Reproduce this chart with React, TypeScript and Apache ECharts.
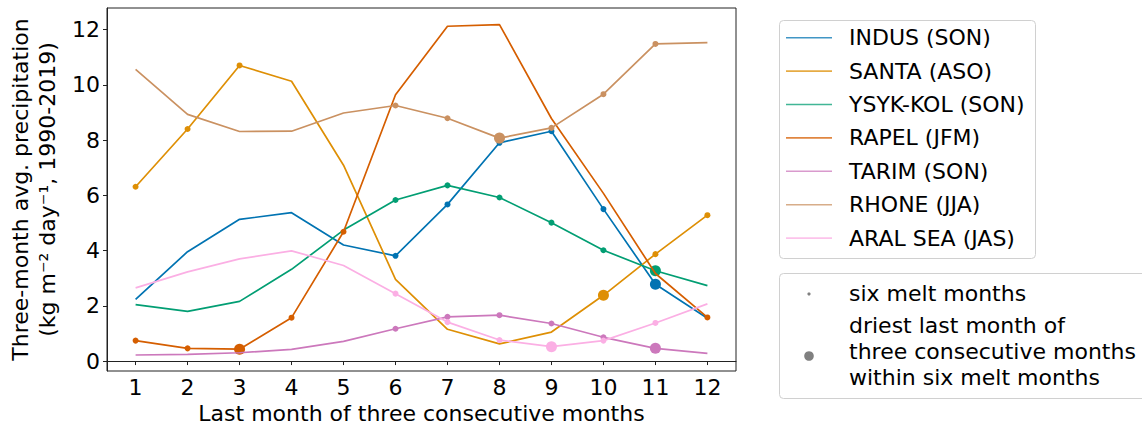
import React, { useEffect, useRef } from "react";
import * as echarts from "echarts";

// Last month of each three-month window (1 = January ... 12 = December)
const months = [1, 2, 3, 4, 5, 6, 7, 8, 9, 10, 11, 12];
const yTicks = [0, 2, 4, 6, 8, 10, 12];

const basinNames = [
  "INDUS (SON)",
  "SANTA (ASO)",
  "YSYK-KOL (SON)",
  "RAPEL (JFM)",
  "TARIM (SON)",
  "RHONE (JJA)",
  "ARAL SEA (JAS)",
];

const basinColors = ["#0173b2", "#de8f05", "#029e73", "#d55e00", "#cc78bc", "#ca9161", "#fbafe4"];

// Three-month average precipitation (kg m-2 day-1, 1990-2019)
const indus = [2.23, 3.96, 5.13, 5.37, 4.2, 3.81, 5.67, 7.9, 8.32, 5.5, 2.78, 1.55];
const santa = [6.31, 8.4, 10.7, 10.13, 7.09, 2.96, 1.15, 0.62, 1.05, 2.38, 3.87, 5.28];
const ysykKol = [2.04, 1.8, 2.16, 3.32, 4.74, 5.83, 6.36, 5.92, 5.01, 4.01, 3.27, 2.73];
const rapel = [0.74, 0.46, 0.43, 1.57, 4.68, 9.64, 12.12, 12.18, 8.78, 6.07, 3.17, 1.58];
const tarim = [0.22, 0.24, 0.3, 0.42, 0.71, 1.17, 1.6, 1.66, 1.36, 0.86, 0.46, 0.28];
const rhone = [10.56, 8.93, 8.31, 8.32, 8.98, 9.25, 8.79, 8.07, 8.44, 9.66, 11.48, 11.53];
const aralSea = [2.65, 3.23, 3.7, 3.99, 3.46, 2.44, 1.41, 0.76, 0.52, 0.74, 1.38, 2.07];

const basinValues = [indus, santa, ysykKol, rapel, tarim, rhone, aralSea];

// Six melt months of each basin and the driest window end within them
const meltMonths = [
  [6, 7, 8, 9, 10, 11],
  [10, 11, 12, 1, 2, 3],
  [6, 7, 8, 9, 10, 11],
  [12, 1, 2, 3, 4, 5],
  [6, 7, 8, 9, 10, 11],
  [6, 7, 8, 9, 10, 11],
  [6, 7, 8, 9, 10, 11],
];
const driestMonth = [11, 10, 11, 3, 11, 8, 9];

const FONT = "DejaVu Sans";

export default function App() {
  const ref = useRef<HTMLDivElement>(null);

  useEffect(() => {
    if (!ref.current) return;
    const chart = echarts.init(ref.current, null, { renderer: "svg" });

    const series = basinNames.map((name, i) => ({
      name,
      type: "line",
      data: months.map((m, j) => [m, basinValues[i][j]]),
      symbol: "circle",
      showSymbol: true,
      symbolSize: (_v: any, p: any) => {
        const m = months[p.dataIndex];
        if (m === driestMonth[i]) return 11;
        if (meltMonths[i].includes(m)) return 6;
        return 0;
      },
      lineStyle: { color: basinColors[i], width: 1.7 },
      itemStyle: { color: basinColors[i] },
      emphasis: { disabled: true },
      z: 2 + i,
    }));

    // Legend boxes
    const legendTop = 20;
    const rowGap = 33.4;
    const legendItems: any[] = [
      {
        type: "rect",
        shape: { x: 779.5, y: legendTop + 0.5, width: 256, height: 238, r: 4 },
        style: { fill: "#fff", stroke: "#d0d0d0", lineWidth: 1 },
      },
    ];
    basinNames.forEach((name, i) => {
      const cy = legendTop + 17.7 + i * rowGap;
      legendItems.push({
        type: "line",
        shape: { x1: 786, y1: cy, x2: 832, y2: cy },
        style: { stroke: basinColors[i], lineWidth: 1.6, opacity: 0.75 },
      });
      legendItems.push({
        type: "text",
        x: 849,
        y: cy,
        style: { text: name, font: `22px ${FONT}`, fill: "#000", textVerticalAlign: "middle" },
      });
    });
    legendItems.push(
      {
        type: "rect",
        shape: { x: 779.5, y: 273.5, width: 400, height: 125, r: 4 },
        style: { fill: "#fff", stroke: "#d0d0d0", lineWidth: 1 },
      },
      { type: "circle", shape: { cx: 809, cy: 294, r: 1.6 }, style: { fill: "#808080" } },
      {
        type: "text",
        x: 849,
        y: 293,
        style: { text: "six melt months", font: `22px ${FONT}`, fill: "#000", textVerticalAlign: "middle" },
      },
      { type: "circle", shape: { cx: 809, cy: 356, r: 4.8 }, style: { fill: "#808080" } },
      {
        type: "text",
        x: 849,
        y: 325,
        style: { text: "driest last month of", font: `22px ${FONT}`, fill: "#000", textVerticalAlign: "middle" },
      },
      {
        type: "text",
        x: 849,
        y: 351,
        style: { text: "three consecutive months", font: `22px ${FONT}`, fill: "#000", textVerticalAlign: "middle" },
      },
      {
        type: "text",
        x: 849,
        y: 377,
        style: { text: "within six melt months", font: `22px ${FONT}`, fill: "#000", textVerticalAlign: "middle" },
      }
    );

    chart.setOption({
      animation: false,
      backgroundColor: "#fff",
      textStyle: { fontFamily: FONT },
      grid: {
        left: 107,
        top: 8,
        width: 629,
        height: 363,
        outerBoundsMode: "none",
        containLabel: false,
        show: true,
        borderColor: "#222",
        borderWidth: 1,
        backgroundColor: "transparent",
      },
      xAxis: {
        type: "value",
        min: 0.45,
        max: 12.55,
        name: "Last month of three consecutive months",
        nameLocation: "middle",
        nameGap: 29,
        nameTextStyle: { fontSize: 22, color: "#000", fontFamily: FONT },
        axisLine: { show: true, lineStyle: { color: "#222", width: 1 } },
        axisTick: { show: true, length: 4, lineStyle: { color: "#222" }, customValues: months },
        axisLabel: { fontSize: 22, color: "#000", margin: 5, customValues: months, fontFamily: FONT },
        splitLine: { show: false },
      },
      yAxis: {
        type: "value",
        min: -0.36,
        max: 12.78,
        name: "Three-month avg. precipitation\n(kg m\u207B\u00B2 day\u207B\u00B9, 1990-2019)",
        nameLocation: "middle",
        nameRotate: 90,
        nameGap: 44,
        nameTextStyle: { fontSize: 22, color: "#000", lineHeight: 27, fontFamily: FONT },
        axisLine: { show: true, lineStyle: { color: "#222", width: 1 } },
        axisTick: { show: true, length: 4, lineStyle: { color: "#222" }, customValues: yTicks },
        axisLabel: { fontSize: 22, color: "#000", margin: 7, customValues: yTicks, fontFamily: FONT },
        splitLine: { show: false },
      },
      series,
      graphic: { elements: legendItems },
    });

    return () => chart.dispose();
  }, []);

  return (
    <div
      ref={ref}
      style={{ position: "fixed", left: 0, top: 0, width: 1142, height: 426, background: "#fff" }}
    />
  );
}
